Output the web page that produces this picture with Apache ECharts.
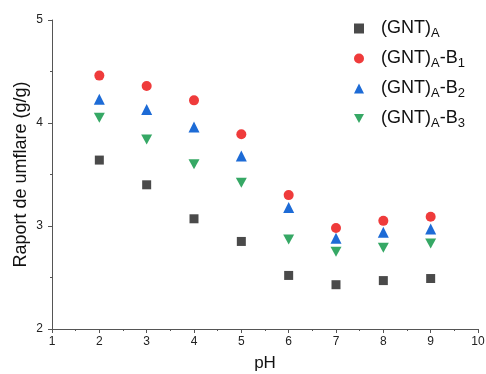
<!DOCTYPE html>
<html>
<head>
<meta charset="utf-8">
<script src="https://cdn.jsdelivr.net/npm/echarts@6/dist/echarts.min.js"></script>
<style>
  html, body { margin: 0; padding: 0; background: #fff; }
  #chart { width: 486px; height: 374px; }
</style>
</head>
<body>
<div id="chart"></div>
<script>
// pH values on x
const phValues = [2, 3, 4, 5, 6, 7, 8, 9];

// swelling ratio (g/g) per series
const gntA = [3.64, 3.40, 3.07, 2.85, 2.52, 2.43, 2.47, 2.49];
const gntAB1 = [4.46, 4.36, 4.22, 3.89, 3.30, 2.98, 3.05, 3.09];
const gntAB2 = [4.23, 4.13, 3.96, 3.68, 3.18, 2.88, 2.94, 2.97];
const gntAB3 = [4.05, 3.84, 3.60, 3.42, 2.87, 2.75, 2.79, 2.83];

const seriesNames = ["(GNT)A", "(GNT)A-B1", "(GNT)A-B2", "(GNT)A-B3"];
const legendLabels = {
  "(GNT)A": "{m|(GNT)}{s|A}",
  "(GNT)A-B1": "{m|(GNT)}{s|A}{m|-B}{s|1}",
  "(GNT)A-B2": "{m|(GNT)}{s|A}{m|-B}{s|2}",
  "(GNT)A-B3": "{m|(GNT)}{s|A}{m|-B}{s|3}",
};

const font = "'Liberation Sans', Arial, sans-serif";
const axisColor = "#555";

const toPoints = (vals) => phValues.map((x, i) => [x, vals[i]]);

const chart = echarts.init(document.getElementById("chart"));

const option = {
  animation: false,
  textStyle: { fontFamily: font },
  grid: { left: 52, right: 8, top: 20, bottom: 45, outerBoundsMode: "none" },
  legend: {
    orient: "vertical",
    left: 349,
    top: 12,
    itemWidth: 10,
    itemHeight: 10,
    itemGap: 7,
    data: seriesNames,
    formatter: (name) => legendLabels[name],
    textStyle: {
      fontFamily: font,
      padding: [0, 0, 0, 12],
      rich: {
        m: { fontSize: 18, color: "#111", fontFamily: font, lineHeight: 20 },
        s: { fontSize: 13, color: "#111", fontFamily: font, padding: [10, 0, 0, 0], lineHeight: 20 },
      },
    },
  },
  xAxis: {
    type: "value",
    min: 1,
    max: 10,
    interval: 1,
    name: "pH",
    nameLocation: "middle",
    nameGap: 26,
    nameTextStyle: { fontSize: 17, color: "#111", fontFamily: font },
    axisLine: { show: true, lineStyle: { color: axisColor, width: 1 } },
    axisTick: { show: true, length: 4, lineStyle: { color: axisColor } },
    minorTick: { show: true, splitNumber: 2, length: 2, lineStyle: { color: axisColor } },
    axisLabel: { fontSize: 12, color: "#222", margin: 7, fontFamily: font },
    splitLine: { show: false },
  },
  yAxis: {
    type: "value",
    min: 2,
    max: 5,
    interval: 1,
    name: "Raport de umflare (g/g)",
    nameLocation: "middle",
    nameGap: 22,
    nameMoveOverlap: false,
    nameTextStyle: { fontSize: 18, color: "#111", fontFamily: font },
    axisLine: { show: true, lineStyle: { color: axisColor, width: 1 } },
    axisTick: { show: true, length: 4, lineStyle: { color: axisColor } },
    minorTick: { show: true, splitNumber: 2, length: 2, lineStyle: { color: axisColor } },
    axisLabel: { fontSize: 12, color: "#222", margin: 9, fontFamily: font },
    splitLine: { show: false },
  },
  series: [
    {
      name: seriesNames[0],
      type: "scatter",
      symbol: "rect",
      symbolSize: 9,
      itemStyle: { color: "#4a4a4a", opacity: 1 },
      data: toPoints(gntA),
    },
    {
      name: seriesNames[1],
      type: "scatter",
      symbol: "circle",
      symbolSize: 10,
      itemStyle: { color: "#ef3b3b", opacity: 1 },
      data: toPoints(gntAB1),
    },
    {
      name: seriesNames[2],
      type: "scatter",
      symbol: "triangle",
      symbolSize: 11,
      itemStyle: { color: "#1d6bd6", opacity: 1 },
      data: toPoints(gntAB2),
    },
    {
      name: seriesNames[3],
      type: "scatter",
      symbol: "path://M0,0 L10,0 L5,9 Z",
      symbolSize: [11, 10],
      itemStyle: { color: "#36a865", opacity: 1 },
      data: toPoints(gntAB3),
    },
  ],
};

chart.setOption(option);
</script>
</body>
</html>
